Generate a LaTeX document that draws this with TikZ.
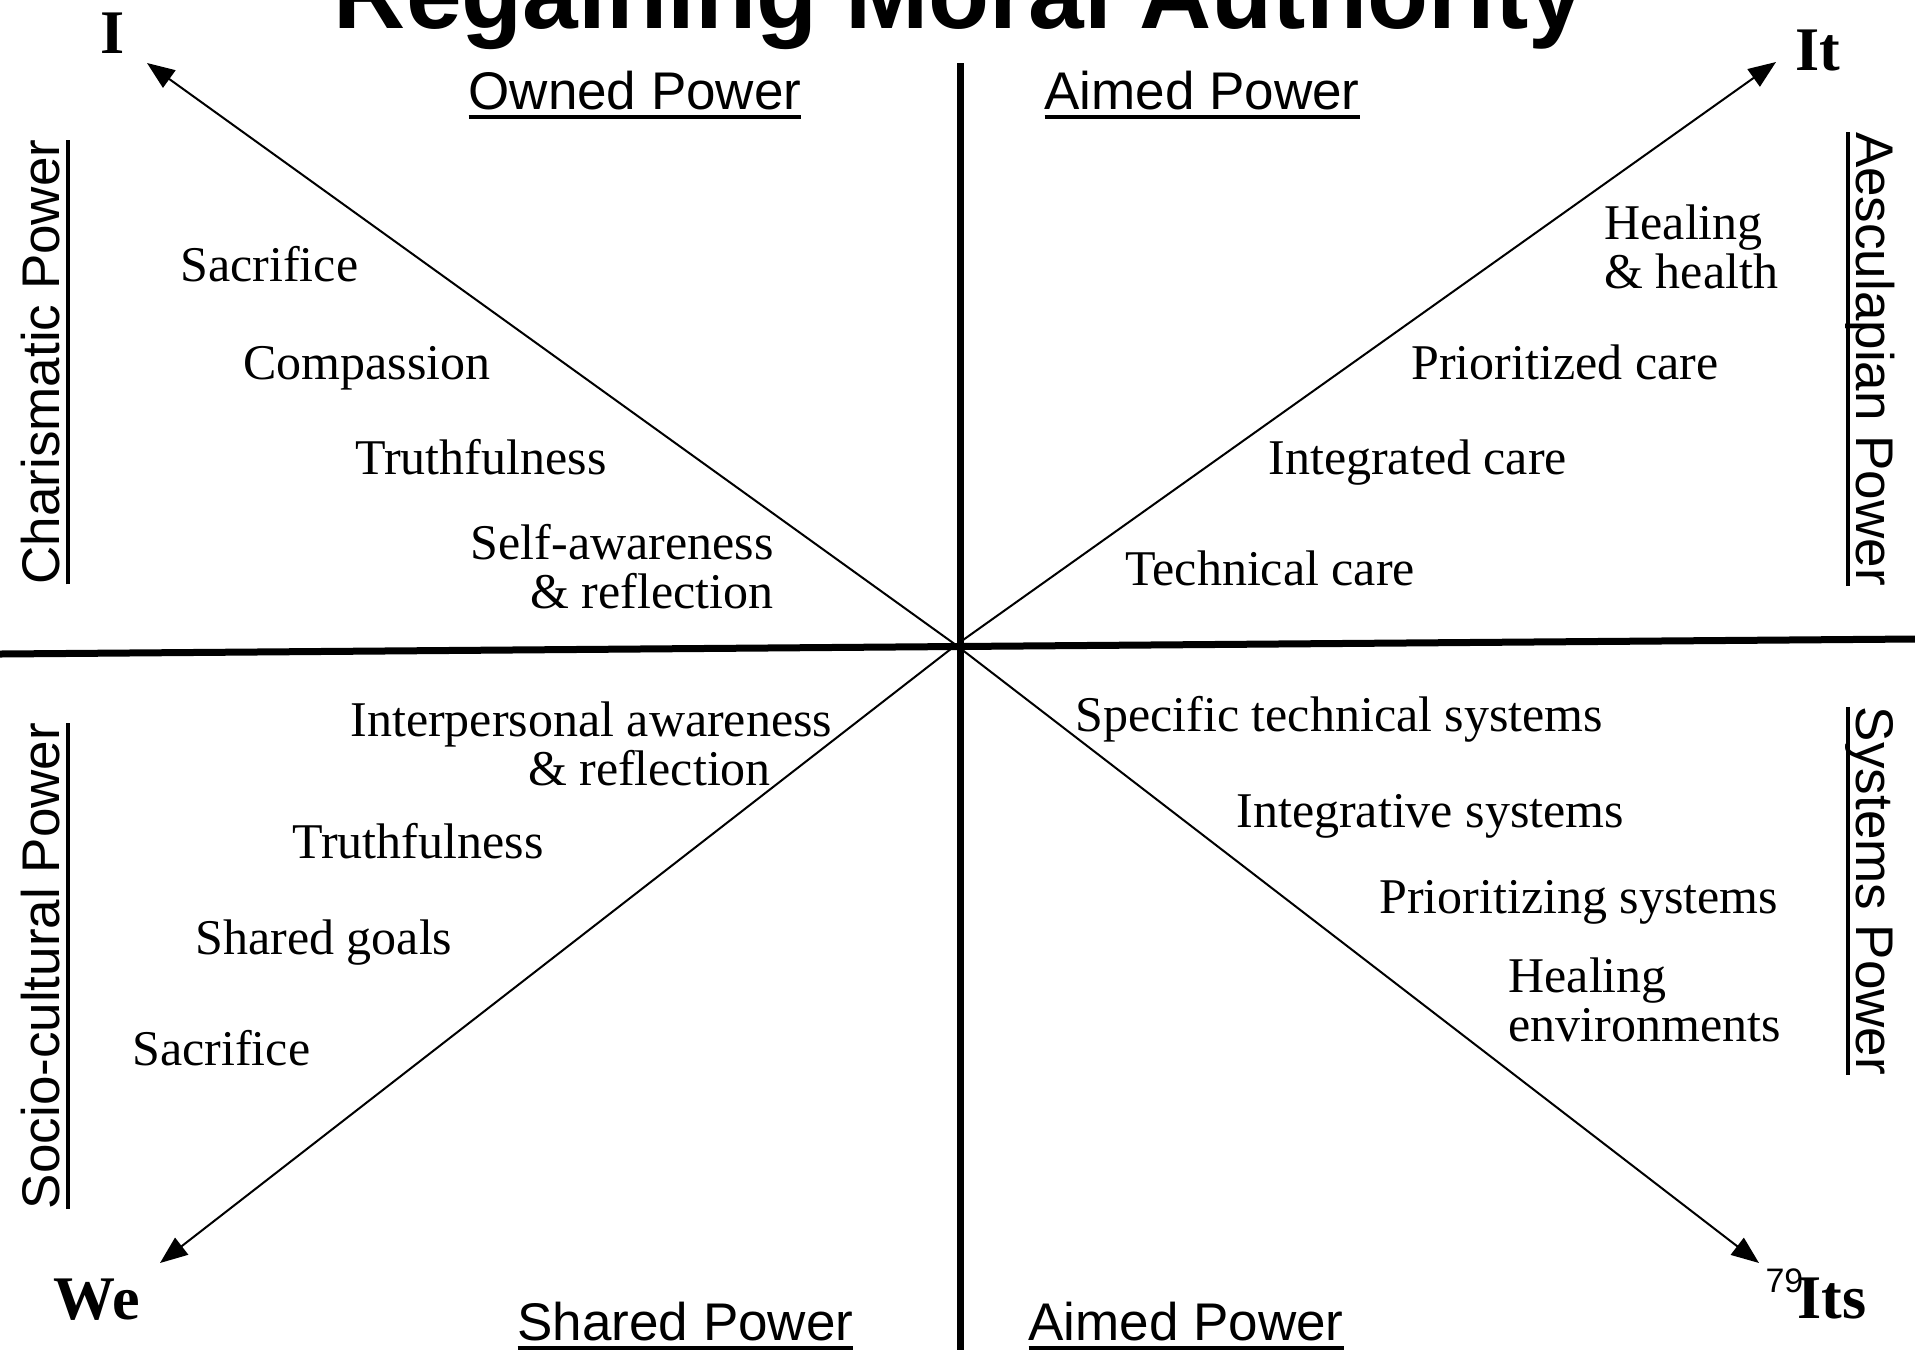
\documentclass[tikz,border=0pt]{standalone}
\usepackage{fontspec}
\setmainfont{Liberation Serif}
\setsansfont{Liberation Sans}
\usetikzlibrary{arrows.meta}

% underline that sits just under the baseline (crosses descenders)
\newsavebox{\headbox}
\newcommand{\ulbase}[1]{\sbox{\headbox}{#1}\rlap{\rule[-0.18em]{\wd\headbox}{0.065em}}\usebox{\headbox}}

\begin{document}
\begin{tikzpicture}[x=0.4pt, y=-0.4pt,
    item/.style={font=\fontsize{20}{19.6}\selectfont, inner sep=0pt, anchor=base west},
    heading/.style={font=\sffamily\fontsize{21.2}{24}\selectfont, inner sep=0pt, anchor=base west},
    side/.style={font=\sffamily\fontsize{21.2}{24}\selectfont, inner sep=0pt, anchor=base},
    corner/.style={font=\bfseries\fontsize{24.8}{28}\selectfont, inner sep=0pt, anchor=base west},
    axis/.style={line width=2.8pt},
    ray/.style={line width=0.8pt, -{Triangle[length=11pt, width=8.5pt]}}]
  \useasboundingbox (0,0) rectangle (1915,1349);
  \clip (0,0) rectangle (1915,1349);

  % Title (runs off the top edge)
  \node[font=\sffamily\bfseries\fontsize{40}{44}\selectfont, inner sep=0pt, anchor=base]
    (title) at (959,28) {Regaining Moral Authority};

  % Axes
  \coordinate (xl) at (0,654);
  \coordinate (xr) at (1915,639);
  \coordinate (yt) at (960,63);
  \coordinate (yb) at (960,1352);
  \draw[axis] (xl) -- (xr);
  \draw[axis] (yt) -- (yb);

  % Diagonal arrows out of the centre
  \coordinate (O) at (956,645);
  \coordinate (tipI) at (147,63);
  \coordinate (tipIt) at (1776,62);
  \coordinate (tipWe) at (160,1263);
  \coordinate (tipIts) at (1759,1263);
  \draw[ray] (O) -- (tipI);
  \draw[ray] (O) -- (tipIt);
  \draw[ray] (O) -- (tipWe);
  \draw[ray] (O) -- (tipIts);

  % Corner labels
  \node[corner] (I) at (100,53) {I};
  \node[corner] (It) at (1795,70) {It};
  \node[corner] (We) at (53,1319) {We};
  \node[corner] (Its) at (1797,1318) {Its};
  \node[font=\sffamily\fontsize{13.6}{15}\selectfont, inner sep=0pt, anchor=base west]
    (pageno) at (1765,1292) {79};

  % Power headings
  \node[heading] (owned) at (468,109) {\ulbase{Owned Power}};
  \node[heading] (aimedT) at (1044,109) {\ulbase{Aimed Power}};
  \node[heading] (shared) at (517,1340) {\ulbase{Shared Power}};
  \node[heading] (aimedB) at (1028,1340) {\ulbase{Aimed Power}};
  \node[side, rotate=90] (charis) at (60,362) {\ulbase{Charismatic Power}};
  \node[side, rotate=90] (socio) at (60,966) {\ulbase{Socio-cultural Power}};
  \node[side, rotate=-90] (aescul) at (1856,359) {\ulbase{Aesculapian Power}};
  \node[side, rotate=-90] (systems) at (1856,891) {\ulbase{Systems Power}};

  % I quadrant
  \node[item] (sacI) at (180,281) {Sacrifice};
  \node[item] (comp) at (243,379) {Compassion};
  \node[item] (truthI) at (355,474) {Truthfulness};
  \node[item, align=right, anchor=base east] (selfaw) at (774,608) {Self-awareness\\\& reflection};

  % It quadrant
  \node[item, align=left] (heal) at (1604,288) {Healing\\\& health};
  \node[item] (prio) at (1411,379) {Prioritized care};
  \node[item] (integ) at (1268,474) {Integrated care};
  \node[item] (tech) at (1125,585) {Technical care};

  % We quadrant
  \node[item, align=left] (interp) at (350,785) {Interpersonal awareness\\\hspace*{71pt}\& reflection};
  \node[item] (truthWe) at (292,858) {Truthfulness};
  \node[item] (goals) at (195,954) {Shared goals};
  \node[item] (sacWe) at (132,1065) {Sacrifice};

  % Its quadrant
  \node[item] (spec) at (1075,731) {Specific technical systems};
  \node[item] (integsys) at (1236,827) {Integrative systems};
  \node[item] (priosys) at (1379,913) {Prioritizing systems};
  \node[item, align=left] (healenv) at (1508,1041) {Healing\\environments};
\end{tikzpicture}
\end{document}
